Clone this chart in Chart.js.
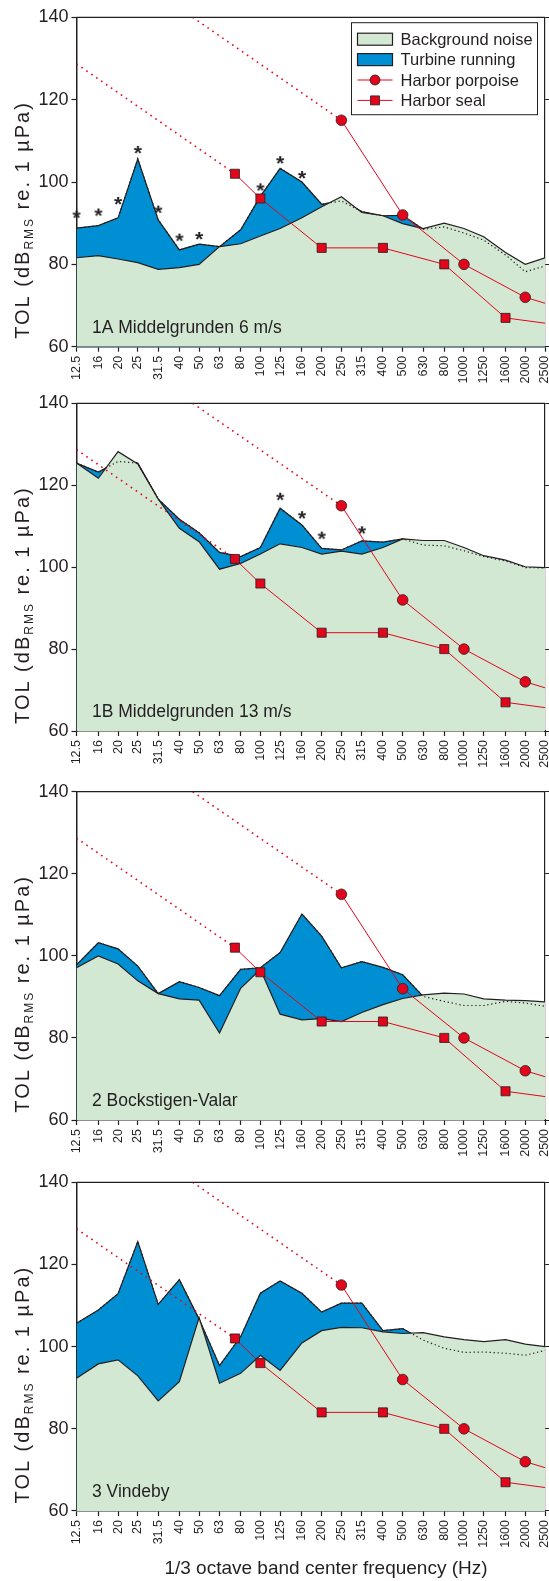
<!DOCTYPE html>
<html>
<head>
<meta charset="utf-8">
<title>TOL spectra</title>
<script src="https://cdn.jsdelivr.net/npm/chart.js@4.4.1/dist/chart.umd.min.js"></script>
<style>
  html, body { margin: 0; padding: 0; background: #fff; }
  body { position: relative; width: 549px; height: 1581px; overflow: hidden; }
  canvas { position: absolute; left: 0; }
</style>
</head>
<body>
<script>
// 1/3 octave band centre frequencies (Hz)
const FREQS = [12.5, 16, 20, 25, 31.5, 40, 50, 63, 80, 100, 125, 160, 200, 250, 315, 400, 500, 630, 800, 1000, 1250, 1600, 2000, 2500];

// 1A Middelgrunden 6 m/s
const BG_1A   = [81.6, 82.1, 81.3, 80.4, 78.8, 79.2, 80.0, 84.3, 85.0, 86.9, 88.7, 91.3, 94.0, 96.4, 92.6, 91.8, 89.9, 88.7, 90.0, 88.7, 86.7, 82.9, 80.0, 81.6];
const TURB_1A = [88.8, 89.4, 91.3, 105.6, 90.8, 83.5, 84.9, 84.3, 88.4, 96.5, 103.3, 100.0, 94.6, 95.4, 92.8, 91.8, 91.9, 88.5, 89.1, 87.6, 85.9, 82.3, 78.2, 79.6];
const STAR_1A_F  = [12.5, 16, 20, 25, 31.5, 40, 50, 100, 125, 160];
const STAR_1A_DB = [92.1, 92.6, 95.4, 107.8, 93.3, 86.5, 86.9, 98.7, 105.3, 101.7];

// 1B Middelgrunden 13 m/s
const BG_1B   = [125.4, 121.7, 128.2, 125.2, 116.6, 109.5, 106.2, 99.5, 100.9, 103.2, 105.7, 104.8, 103.2, 103.9, 103.2, 104.8, 106.9, 106.5, 106.5, 104.8, 102.8, 101.7, 100.1, 99.9];
const TURB_1B = [125.4, 123.2, 125.8, 125.4, 116.6, 111.7, 108.4, 103.6, 102.6, 104.8, 114.4, 110.3, 104.6, 104.2, 106.4, 106.1, 106.9, 105.4, 105.2, 104.0, 102.6, 101.5, 99.9, 99.8];
const STAR_1B_F  = [125, 160, 200, 315];
const STAR_1B_DB = [117.2, 112.7, 107.7, 109.0];

// 2 Bockstigen-Valar
const BG_2   = [97.1, 100.0, 98.0, 93.9, 90.8, 89.5, 89.2, 81.2, 92.1, 96.7, 85.8, 84.4, 84.7, 84.0, 86.2, 88.1, 89.6, 90.5, 90.9, 90.7, 89.5, 89.2, 89.1, 88.8];
const TURB_2 = [97.8, 103.2, 101.7, 97.5, 90.8, 93.7, 92.3, 90.3, 96.7, 97.1, 100.8, 110.2, 104.8, 97.1, 98.6, 97.2, 95.4, 90.1, 88.9, 87.9, 87.9, 88.9, 88.5, 87.7];

// 3 Vindeby
const BG_3   = [92.3, 95.8, 96.8, 92.9, 86.8, 91.5, 107.1, 91.1, 93.5, 97.9, 94.2, 100.9, 103.9, 104.7, 104.6, 103.6, 103.2, 103.4, 102.4, 101.7, 101.2, 101.7, 100.6, 100.0];
const TURB_3 = [105.7, 108.9, 112.9, 125.6, 110.3, 116.3, 106.7, 95.4, 102.4, 113.0, 116.0, 113.0, 108.4, 110.6, 110.6, 103.9, 104.4, 101.6, 99.6, 98.6, 98.7, 98.4, 97.9, 99.1];

// audiograms (same in every panel)
const PORPOISE_F  = [250, 500, 1000, 2000, 4000];
const PORPOISE_DB = [115, 92, 80, 72, 67.5];
const PORPOISE_EXTRAP_F  = [46.5, 250];
const PORPOISE_EXTRAP_DB = [140, 115];
const SEAL_F  = [75, 100, 200, 400, 800, 1600, 3200];
const SEAL_DB = [102, 96, 84, 84, 80, 67, 65];
const SEAL_EXTRAP_F  = [12.5, 75];
const SEAL_EXTRAP_DB = [128.7, 102];

const PANEL_TITLES = ['1A Middelgrunden 6 m/s', '1B Middelgrunden 13 m/s', '2 Bockstigen-Valar', '3 Vindeby'];
const LEGEND_LABELS = ['Background noise', 'Turbine running', 'Harbor porpoise', 'Harbor seal'];
const Y_TITLE = ['TOL (dB', 'RMS', ' re. 1 µPa)'];
const X_TITLE = '1/3 octave band center frequency (Hz)';

const FONT = 'Arial, "Liberation Sans", Helvetica, sans-serif';
const INK = '#231f20';
const GREEN = '#d3e8d3';
const BLUE = '#008fd3';
const RED = '#e3051b';

Chart.defaults.font.family = FONT;
Chart.defaults.color = INK;

// plot area of every panel on the page
const PLOT_LEFT = 76.5;
const PLOT_RIGHT = 545;
const AREAS = [
  {top: 17.3, h: 329.4},
  {top: 403.3, h: 327.7},
  {top: 791.7, h: 328.3},
  {top: 1182.3, h: 328.7}
];
const PAGE_H = 1581;

const pts = (xs, ys) => xs.map((x, i) => ({x: x, y: ys[i]}));

function starImage() {
  const c = document.createElement('canvas');
  c.width = 14; c.height = 14;
  const g = c.getContext('2d');
  g.font = 'bold 21px ' + FONT;
  g.fillStyle = INK;
  g.textAlign = 'center';
  const m = g.measureText('*');
  g.fillText('*', 7, 7 + (m.actualBoundingBoxAscent - m.actualBoundingBoxDescent) / 2);
  return c;
}
const STAR = starImage();

function drawYTitle(ctx, area) {
  ctx.save();
  ctx.translate(21, (area.top + area.bottom) / 2 + 38);
  ctx.rotate(-Math.PI / 2);
  ctx.fillStyle = INK;
  ctx.textBaseline = 'alphabetic';
  if ('letterSpacing' in ctx) ctx.letterSpacing = '2px';
  const fonts = ['20px ' + FONT, '12px ' + FONT, '20px ' + FONT];
  const shift = [0, 4, 0];
  let total = 0;
  Y_TITLE.forEach((t, k) => { ctx.font = fonts[k]; total += ctx.measureText(t).width; });
  let x = -total / 2;
  Y_TITLE.forEach((t, k) => {
    ctx.font = fonts[k];
    ctx.fillText(t, x, 7.5 + shift[k]);
    x += ctx.measureText(t).width;
  });
  ctx.restore();
}

function drawLegend(ctx, area) {
  const w = 186, h = 92;
  const x0 = area.right - 7.5 - w, y0 = area.top + 5.4;
  ctx.save();
  ctx.fillStyle = '#fff';
  ctx.fillRect(x0, y0, w, h);
  ctx.strokeStyle = INK;
  ctx.lineWidth = 1;
  ctx.strokeRect(x0, y0, w, h);
  ctx.font = '16.5px ' + FONT;
  ctx.textBaseline = 'middle';
  LEGEND_LABELS.forEach((label, k) => {
    const cy = y0 + 16.5 + k * 20.4;
    const sx = x0 + 6, sw = 35;
    if (k < 2) {
      ctx.fillStyle = k === 0 ? GREEN : BLUE;
      ctx.fillRect(sx, cy - 6, sw, 12);
      ctx.strokeStyle = INK;
      ctx.lineWidth = 1.2;
      ctx.strokeRect(sx, cy - 6, sw, 12);
    } else {
      ctx.strokeStyle = RED;
      ctx.lineWidth = 1;
      ctx.beginPath();
      ctx.moveTo(sx, cy); ctx.lineTo(sx + sw, cy);
      ctx.stroke();
      ctx.fillStyle = RED;
      ctx.strokeStyle = INK;
      ctx.lineWidth = 0.8;
      ctx.beginPath();
      if (k === 2) ctx.arc(sx + sw / 2, cy, 5, 0, Math.PI * 2);
      else ctx.rect(sx + sw / 2 - 4.5, cy - 4.5, 9, 9);
      ctx.fill(); ctx.stroke();
    }
    ctx.fillStyle = INK;
    ctx.fillText(label, x0 + 49, cy + 1);
  });
  ctx.restore();
}

const PANELS = [
  {bg: BG_1A, turb: TURB_1A, starF: STAR_1A_F, starDb: STAR_1A_DB, legend: true},
  {bg: BG_1B, turb: TURB_1B, starF: STAR_1B_F, starDb: STAR_1B_DB},
  {bg: BG_2, turb: TURB_2, starF: [], starDb: []},
  {bg: BG_3, turb: TURB_3, starF: [], starDb: [], xTitle: true}
];

PANELS.forEach((p, i) => {
  const A = AREAS[i];
  const top = Math.floor(A.top - 14);
  const padTop = A.top - top;
  const height = p.xTitle ? PAGE_H - top : Math.ceil(padTop + A.h + 42);
  const xAxisH = height - padTop - A.h;

  const canvas = document.createElement('canvas');
  canvas.width = 549;
  canvas.height = height;
  canvas.style.top = top + 'px';
  document.body.appendChild(canvas);

  const decor = {
    id: 'decor' + i,
    afterDatasetsDraw(chart) {
      const {ctx, chartArea: a} = chart;
      ctx.save();
      ctx.strokeStyle = INK;
      ctx.lineWidth = 1.2;
      ctx.beginPath();
      ctx.moveTo(a.left, a.top); ctx.lineTo(a.right, a.top);
      ctx.stroke();
      ctx.font = '17.5px ' + FONT;
      ctx.fillStyle = INK;
      ctx.textBaseline = 'alphabetic';
      ctx.fillText(PANEL_TITLES[i], a.left + 15.5, a.bottom - 14);
      ctx.restore();
    },
    afterDraw(chart) {
      const {ctx, chartArea: a} = chart;
      drawYTitle(ctx, a);
      if (p.legend) drawLegend(ctx, a);
      if (p.xTitle) {
        ctx.save();
        ctx.font = '19px ' + FONT;
        ctx.fillStyle = INK;
        ctx.textAlign = 'center';
        ctx.textBaseline = 'middle';
        ctx.fillText(X_TITLE, 326, 1569 - top);
        ctx.restore();
      }
    }
  };

  const line = {pointRadius: 0, tension: 0, fill: false};

  new Chart(canvas, {
    type: 'line',
    data: {
      datasets: [
        Object.assign({}, line, {
          label: 'Harbor porpoise', data: pts(PORPOISE_F, PORPOISE_DB),
          borderColor: RED, borderWidth: 1,
          pointStyle: 'circle', pointRadius: 5.3,
          pointBackgroundColor: RED, pointBorderColor: INK, pointBorderWidth: 0.8, order: 0
        }),
        Object.assign({}, line, {
          label: 'Harbor seal', data: pts(SEAL_F, SEAL_DB),
          borderColor: RED, borderWidth: 1,
          pointStyle: 'rect', pointRadius: 6.4,
          pointBackgroundColor: RED, pointBorderColor: INK, pointBorderWidth: 0.8, order: 0
        }),
        Object.assign({}, line, {
          label: 'Harbor porpoise (extrapolated)', data: pts(PORPOISE_EXTRAP_F, PORPOISE_EXTRAP_DB),
          borderColor: RED, borderWidth: 1.6, borderDash: [1.6, 4.4], order: 1
        }),
        Object.assign({}, line, {
          label: 'Harbor seal (extrapolated)', data: pts(SEAL_EXTRAP_F, SEAL_EXTRAP_DB),
          borderColor: RED, borderWidth: 1.6, borderDash: [1.6, 4.4], order: 1
        }),
        Object.assign({}, line, {
          label: 'Significant difference', data: pts(p.starF, p.starDb),
          showLine: false, pointStyle: STAR, pointRadius: 4, clip: false, order: 0
        }),
        Object.assign({}, line, {
          label: 'Turbine running (below background)', data: pts(FREQS, p.turb),
          borderColor: INK, borderWidth: 1.2, borderDash: [1.3, 2.7], order: 2
        }),
        Object.assign({}, line, {
          label: 'Background noise', data: pts(FREQS, p.bg),
          borderColor: INK, borderWidth: 1.2, backgroundColor: GREEN, fill: 'start', order: 3
        }),
        Object.assign({}, line, {
          label: 'Turbine running', data: pts(FREQS, p.turb),
          borderColor: INK, borderWidth: 1.2, backgroundColor: BLUE, fill: 'start', order: 4
        })
      ]
    },
    options: {
      responsive: false,
      animation: false,
      events: [],
      layout: {autoPadding: false, padding: {top: padTop, left: 0, right: 0, bottom: 0}},
      plugins: {legend: {display: false}, tooltip: {enabled: false}},
      scales: {
        x: {
          type: 'logarithmic', min: 12.5, max: 2500, position: 'bottom', z: 1,
          afterBuildTicks: s => { s.ticks = FREQS.map(v => ({value: v})); },
          afterFit: s => { s.height = xAxisH; s.paddingLeft = 0; s.paddingRight = 0; },
          grid: {drawOnChartArea: false, tickLength: 5, tickColor: INK, tickWidth: 1.2},
          border: {color: INK, width: 1.5},
          ticks: {
            autoSkip: false, maxRotation: 90, minRotation: 90, padding: 4,
            font: {size: 12.5}, color: INK,
            callback: v => String(v)
          }
        },
        y: {
          min: 60, max: 140, position: 'left', z: 1,
          afterFit: s => { s.width = PLOT_LEFT; s.paddingTop = 0; s.paddingBottom = 0; },
          grid: {drawOnChartArea: false, tickLength: 5, tickColor: INK, tickWidth: 1.2},
          border: {color: INK, width: 1.5},
          ticks: {stepSize: 20, padding: 3, font: {size: 18}, color: INK}
        },
        y2: {
          min: 60, max: 140, position: 'right', z: 1,
          afterFit: s => { s.width = 549 - PLOT_RIGHT; s.paddingTop = 0; s.paddingBottom = 0; },
          grid: {drawOnChartArea: false, tickLength: 4, tickColor: INK, tickWidth: 1},
          border: {color: INK, width: 1.2},
          ticks: {stepSize: 20, display: false}
        }
      }
    },
    plugins: [decor]
  });
});
</script>
</body>
</html>
